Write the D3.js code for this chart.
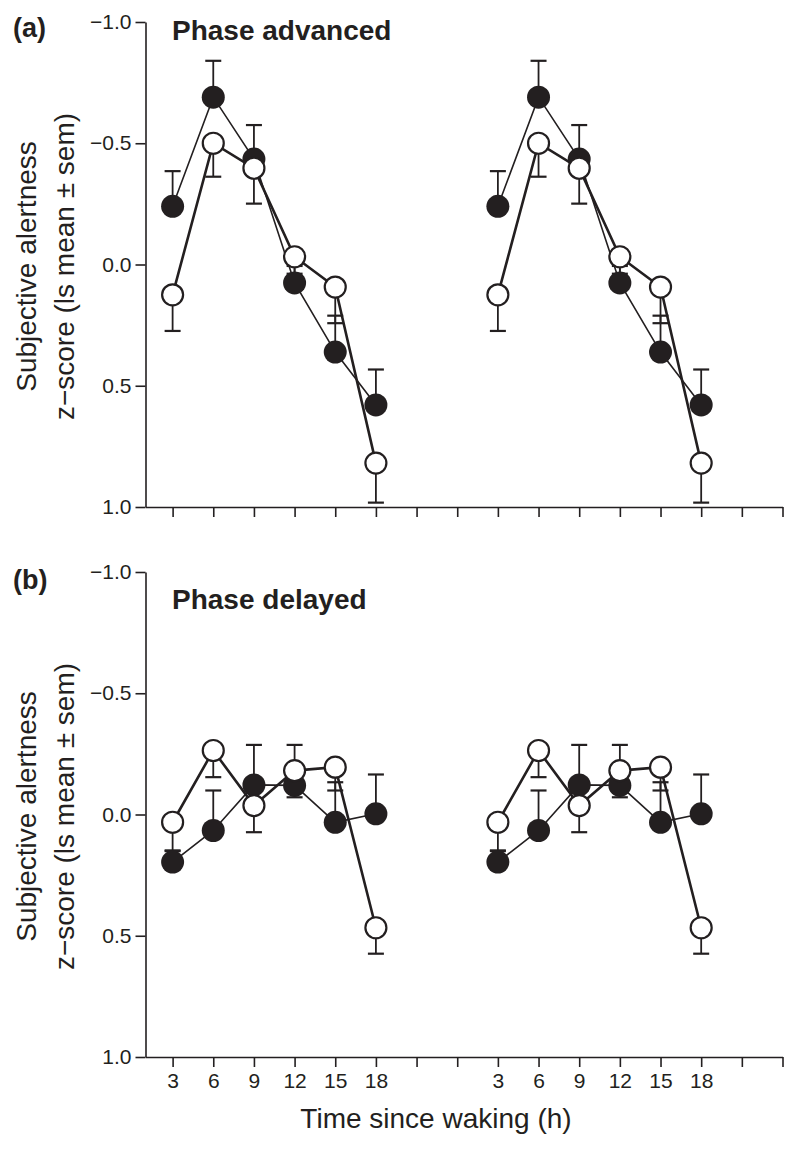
<!DOCTYPE html>
<html>
<head>
<meta charset="utf-8">
<script src="https://cdn.jsdelivr.net/npm/d3@7"></script>
<style>
  html, body { margin: 0; padding: 0; background: #fff; }
  svg { display: block; }
  text { font-family: "Liberation Sans", Arial, Helvetica, sans-serif; fill: #231f20; }
</style>
</head>
<body>
<svg id="chart" width="800" height="1150"></svg>
<script>
// ---------- data ----------
const hours = [3, 6, 9, 12, 15, 18];
const repeatOffsets = [0, 24];

// Panel (a) Phase advanced
const advFilled    = [-0.24, -0.69, -0.435, 0.076, 0.361, 0.579];
const advFilledSem = [0.145, 0.15, 0.14, 0.07, 0.15, 0.146];
const advOpen      = [0.125, -0.5, -0.397, -0.032, 0.093, 0.819];
const advOpenSem   = [0.149, 0.138, 0.146, 0.07, 0.149, 0.163];

// Panel (b) Phase delayed
const delFilled    = [0.196, 0.066, -0.122, -0.12, 0.032, -0.003];
const delFilledSem = [0.045, 0.165, 0.165, 0.167, 0.165, 0.162];
const delOpen      = [0.032, -0.264, -0.037, -0.181, -0.195, 0.467];
const delOpenSem   = [0.116, 0.11, 0.11, 0.11, 0.096, 0.107];

const xTickValues = [3, 6, 9, 12, 15, 18, 21, 24, 27, 30, 33, 36, 39, 42, 45, 48];
const xTickLabels = ["3", "6", "9", "12", "15", "18", "", "", "3", "6", "9", "12", "15", "18", "", ""];
const yTickValues = [-1, -0.5, 0, 0.5, 1];
const yTickLabels = ["\u22121.0", "\u22120.5", "0.0", "0.5", "1.0"];

const panels = [
  { letter: "(a)", title: "Phase advanced", top: 22, bottom: 507, letterY: 37, titleY: 39.5,
    filled: advFilled, filledSem: advFilledSem, open: advOpen, openSem: advOpenSem, xLabels: false },
  { letter: "(b)", title: "Phase delayed", top: 572, bottom: 1057, letterY: 589, titleY: 609,
    filled: delFilled, filledSem: delFilledSem, open: delOpen, openSem: delOpenSem, xLabels: true }
];

// ---------- drawing ----------
const ink = "#231f20";
const svg = d3.select("#chart");
const x = d3.scaleLinear().domain([1, 48]).range([145.5, 782.5]);

panels.forEach(p => {
  const y = d3.scaleLinear().domain([-1, 1]).range([p.top, p.bottom]);
  const g = svg.append("g");

  // axes
  const yAxis = d3.axisLeft(y).tickValues(yTickValues)
    .tickFormat((d, i) => yTickLabels[i]).tickSize(10).tickSizeOuter(0).tickPadding(4);
  const ya = g.append("g").attr("transform", `translate(${x.range()[0]},0)`).call(yAxis);

  const xAxis = d3.axisBottom(x).tickValues(xTickValues)
    .tickFormat((d, i) => p.xLabels ? xTickLabels[i] : "").tickSize(10).tickSizeOuter(0).tickPadding(6);
  const xa = g.append("g").attr("transform", `translate(0,${p.bottom})`).call(xAxis);

  [ya, xa].forEach(a => {
    a.selectAll("path.domain").attr("stroke", ink).attr("stroke-width", 1.6);
    a.selectAll(".tick line").attr("stroke", ink).attr("stroke-width", 1.6);
    a.selectAll(".tick text").style("font-size", "21px").attr("fill", ink)
      .style("font-family", '"Liberation Sans", Arial, Helvetica, sans-serif');
  });

  // panel letter + title
  g.append("text").attr("x", 13).attr("y", p.letterY).text(p.letter)
    .style("font-size", "27px").style("font-weight", "bold");
  g.append("text").attr("x", 172).attr("y", p.titleY).text(p.title)
    .style("font-size", "28px").style("font-weight", "bold");

  // y label
  const cy = (p.top + p.bottom) / 2 + 2;
  g.append("text").attr("transform", `translate(35.5,${cy}) rotate(-90)`)
    .attr("text-anchor", "middle").style("font-size", "28px").text("Subjective alertness");
  g.append("text").attr("transform", `translate(74,${cy}) rotate(-90)`)
    .attr("text-anchor", "middle").style("font-size", "28px").text("z\u2212score (ls mean \u00b1 sem)");

  const line = d3.line().x(d => x(d.h)).y(d => y(d.v));

  repeatOffsets.forEach(off => {
    const fPts = hours.map((h, i) => ({ h: h + off, v: p.filled[i], e: p.filled[i] - p.filledSem[i] }));
    const oPts = hours.map((h, i) => ({ h: h + off, v: p.open[i], e: p.open[i] + p.openSem[i] }));

    // lines
    g.append("path").datum(fPts).attr("d", line)
      .attr("fill", "none").attr("stroke", ink).attr("stroke-width", 1.6);
    g.append("path").datum(oPts).attr("d", line)
      .attr("fill", "none").attr("stroke", ink).attr("stroke-width", 2.6);

    // error bars
    [fPts, oPts].forEach(pts => {
      const eb = g.append("g");
      eb.selectAll("line.v").data(pts).join("line")
        .attr("x1", d => x(d.h)).attr("x2", d => x(d.h))
        .attr("y1", d => y(d.v)).attr("y2", d => y(d.e))
        .attr("stroke", ink).attr("stroke-width", 1.8);
      eb.selectAll("line.c").data(pts).join("line")
        .attr("x1", d => x(d.h) - 8).attr("x2", d => x(d.h) + 8)
        .attr("y1", d => y(d.e)).attr("y2", d => y(d.e))
        .attr("stroke", ink).attr("stroke-width", 2.2);
    });

    // markers
    g.append("g").selectAll("circle").data(fPts).join("circle")
      .attr("cx", d => x(d.h)).attr("cy", d => y(d.v)).attr("r", 11.5)
      .attr("fill", ink);
    g.append("g").selectAll("circle").data(oPts).join("circle")
      .attr("cx", d => x(d.h)).attr("cy", d => y(d.v)).attr("r", 10.5)
      .attr("fill", "#fff").attr("stroke", ink).attr("stroke-width", 2.2);
  });
});

// x label
svg.append("text").attr("x", 436).attr("y", 1128).attr("text-anchor", "middle")
  .style("font-size", "28px").text("Time since waking (h)");
</script>
</body>
</html>
